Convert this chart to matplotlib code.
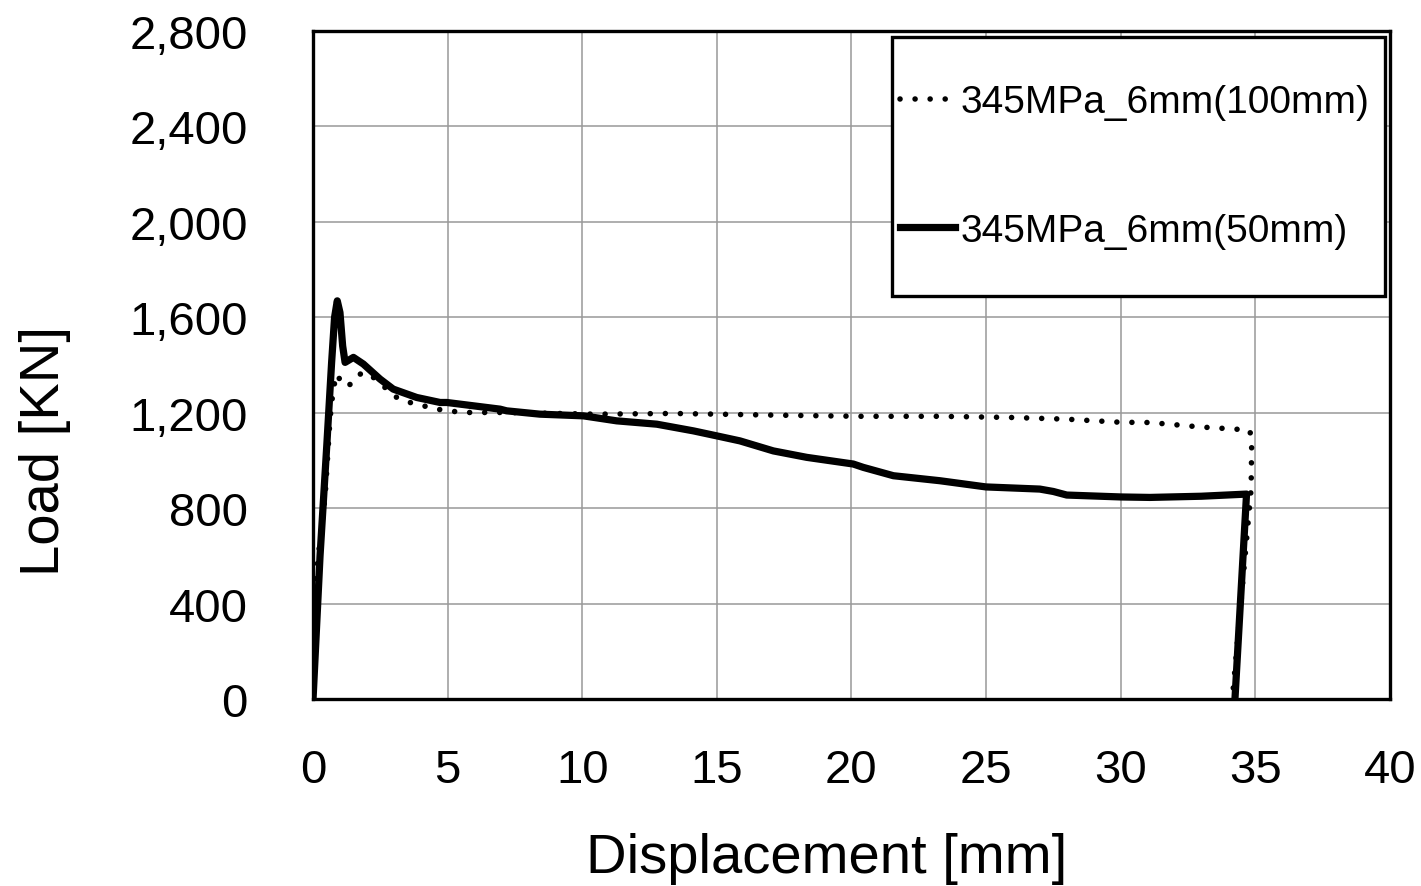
import numpy as np
import matplotlib.pyplot as plt
from matplotlib.patches import Rectangle

plt.rcParams['font.family'] = ['Liberation Sans', 'DejaVu Sans']

# 345MPa_6mm(100mm) - dotted curve
disp_100 = [0.0, 0.14, 0.45, 0.63, 0.75, 0.88, 1.13, 1.44, 1.81, 2.24, 2.67, 3.11,
            3.60, 4.10, 4.60, 5.03, 5.58, 6.70, 7.19, 10.5, 13.38, 15.0, 17.1, 20.3,
            23.29, 26.0, 28.0, 30.0, 31.09, 33.0, 34.31, 34.81, 34.87, 34.85, 34.15]
load_100 = [0, 545, 852, 1173, 1299, 1362, 1313, 1320, 1369, 1348, 1306, 1264,
            1243, 1229, 1215, 1208, 1201, 1201, 1201, 1194, 1197, 1194, 1190, 1185,
            1185, 1180, 1173, 1160, 1159, 1140, 1131, 1124, 1061, 880, 0]

# 345MPa_6mm(50mm) - solid curve
disp_50 = [0.0, 0.26, 0.51, 0.69, 0.80, 0.90, 1.00, 1.10, 1.19, 1.50, 1.87, 2.49,
           2.98, 3.85, 4.72, 4.97, 6.95, 7.19, 8.43, 10.04, 11.28, 12.77, 14.13,
           15.0, 15.86, 17.1, 18.34, 20.07, 20.44, 21.56, 23.29, 25.0, 27.0, 27.5,
           28.0, 30.0, 31.09, 33.0, 34.68, 34.25]
load_50 = [0, 600, 1062, 1411, 1600, 1669, 1620, 1480, 1411, 1432, 1404, 1341,
           1299, 1264, 1243, 1243, 1215, 1208, 1194, 1187, 1166, 1152, 1124,
           1103, 1082, 1040, 1013, 985, 971, 936, 915, 889, 880, 870,
           855, 847, 845, 850, 859, 0]

x_ticks = np.arange(0, 41, 5)
y_ticks = np.arange(0, 2801, 400)

fig = plt.figure(figsize=(14.21, 8.87), dpi=100)
ax = fig.add_axes([0.2203, 0.2108, 0.7577, 0.7531])

ax.plot(disp_100, load_100, color='black', lw=4.0, linestyle=(0, (0.01, 2.7)),
        dash_capstyle='round', label='345MPa_6mm(100mm)', zorder=3)
ax.plot(disp_50, load_50, color='black', lw=5.2, solid_joinstyle='round',
        label='345MPa_6mm(50mm)', zorder=4)

ax.set_xlim(0, 40)
ax.set_ylim(0, 2800)
ax.set_xticks(x_ticks)
ax.set_yticks(y_ticks)
ax.set_yticklabels([f'{v:,}' for v in y_ticks])
ax.grid(True, color='#999999', lw=1.1)
ax.set_axisbelow(True)
for s in ax.spines.values():
    s.set_linewidth(2.4)
    s.set_color('black')
ax.tick_params(length=0, labelsize=34)
ax.tick_params(axis='x', pad=35)
ax.tick_params(axis='y', pad=47)

fig.text(827 / 1421, 1 - 873 / 887, 'Displacement [mm]', fontsize=40.5,
         ha='center', va='baseline')
fig.text(59 / 1421, 1 - 451 / 887, 'Load [KN]', fontsize=40.5, rotation=90,
         rotation_mode='anchor', ha='center', va='baseline')

# legend box
ax.add_patch(Rectangle((0.5376, 0.6033), 0.4578, 0.3877, transform=ax.transAxes,
                       facecolor='white', edgecolor='black', lw=2.4, zorder=5))
leg = ax.legend(loc='center left', bbox_to_anchor=(0.545, 0.797), fontsize=28,
                frameon=False, handlelength=1.43, handletextpad=0.13,
                labelspacing=2.38, borderpad=0, borderaxespad=0)
leg.set_zorder(6)

fig.savefig('out.png', dpi=100)
